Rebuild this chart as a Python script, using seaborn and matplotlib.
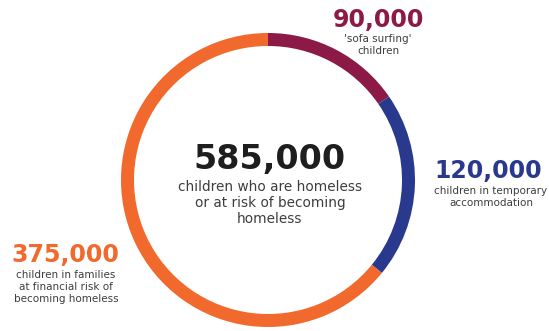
import matplotlib
matplotlib.use("Agg")
import matplotlib.pyplot as plt
import seaborn as sns

categories = ["'sofa surfing'\nchildren", "children in temporary\naccommodation",
              "children in families\nat financial risk of\nbecoming homeless"]
values = [90000, 120000, 375000]
colors = ["#8c1a47", "#293a8e", "#f1692d"]
total_label = "children who are homeless\nor at risk of becoming\nhomeless"

sns.set_theme(style="white")
plt.rcParams['font.family'] = ['DejaVu Sans']

W, H = 549, 331
fig = plt.figure(figsize=(W / 100, H / 100), dpi=100)
ax = fig.add_axes([0, 0, 1, 1])

cx, cy, R = 268, H - 180, 147
ax.pie(values, colors=colors, startangle=90, counterclock=False,
       center=(cx, cy), radius=R, wedgeprops=dict(width=13, linewidth=0))
ax.set_xlim(0, W)
ax.set_ylim(0, H)
ax.set_aspect('equal')
ax.axis('off')

def fmt(v):
    return f"{v:,}"

txt = "#3d3d3d"
# centre
ax.text(270, H - 160, fmt(sum(values)), ha='center', va='center',
        fontsize=24, fontweight='semibold', color="#1e1e1e")
ax.text(270, H - 203, total_label, ha='center', va='center',
        fontsize=9.8, color=txt, linespacing=1.2)

# label positions (image coords)
num_pos = [(378, 20), (488, 171), (65, 255)]
sub_pos = [(378, 45), (491, 197), (66, 287)]
for v, c, lab, (nx, ny), (sx, sy) in zip(values, colors, categories, num_pos, sub_pos):
    ax.text(nx, H - ny, fmt(v), ha='center', va='center', fontsize=17,
            fontweight='semibold', color=c)
    ax.text(sx, H - sy, lab, ha='center', va='center', fontsize=7.5,
            color=txt, linespacing=1.2)

fig.savefig("out.png", dpi=100, facecolor="white")
